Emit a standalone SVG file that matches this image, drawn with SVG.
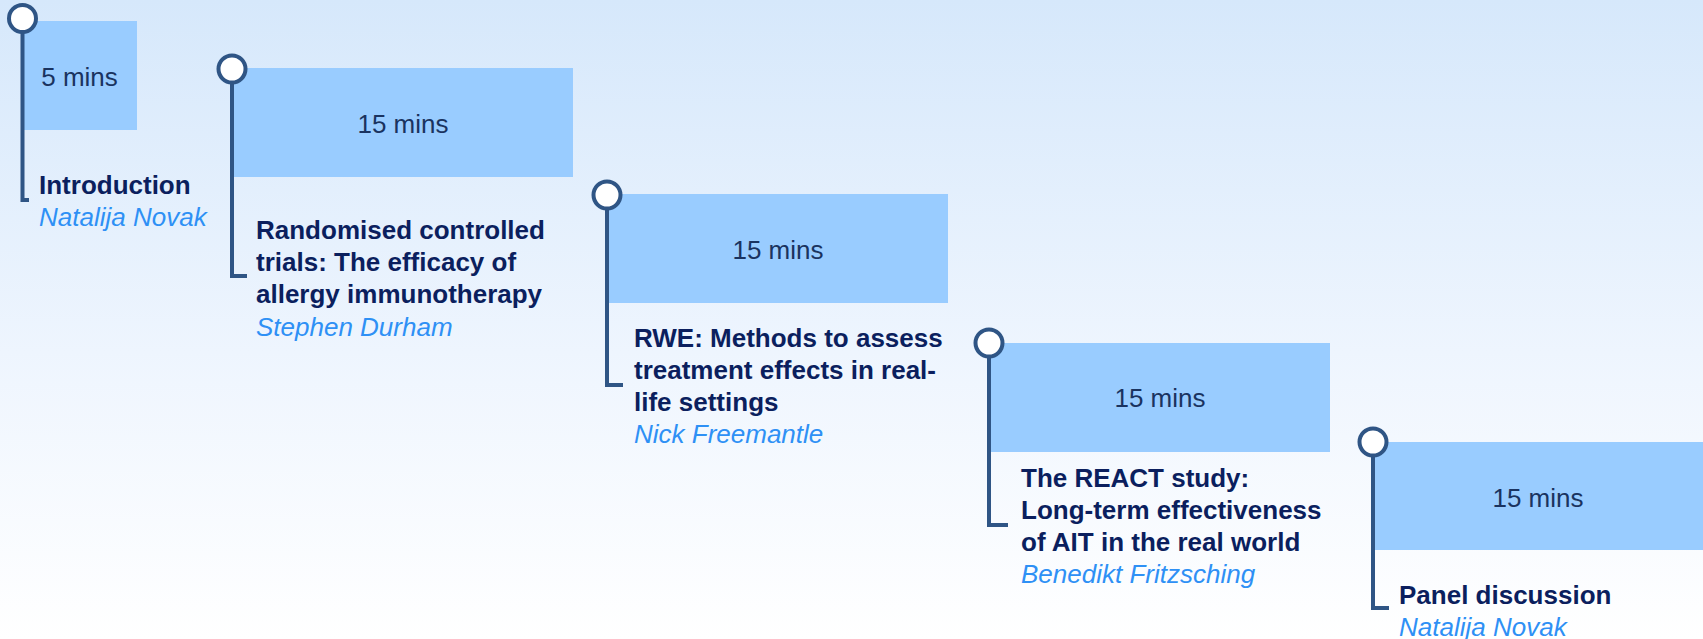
<svg xmlns="http://www.w3.org/2000/svg" width="1703" height="639" viewBox="0 0 1703 639">
  <defs>
    <linearGradient id="bg" x1="0" y1="0" x2="0" y2="1">
      <stop offset="0" stop-color="#D6E8FB"/>
      <stop offset="0.55" stop-color="#EEF5FE"/>
      <stop offset="1" stop-color="#FFFFFF"/>
    </linearGradient>
  </defs>
  <style>
    .box { fill: #99CCFF; }
    .pin { fill: #FFFFFF; stroke: #2F5585; stroke-width: 4; }
    .stem { fill: none; stroke: #2F5585; stroke-width: 4; stroke-linejoin: miter; stroke-linecap: butt; }
    .dur { font-family: "Liberation Sans", Arial, sans-serif; font-size: 26px; fill: #1A3360; text-anchor: middle; }
    .title { font-family: "Liberation Sans", Arial, sans-serif; font-size: 26px; font-weight: bold; fill: #0B1F5E; }
    .name { font-family: "Liberation Sans", Arial, sans-serif; font-size: 26px; font-style: italic; fill: #2E90F5; }
  </style>
  <rect x="0" y="0" width="1703" height="639" fill="url(#bg)"/>

  <g id="node1">
    <rect class="box" x="22.5" y="21" width="114.5" height="109"/>
    <text class="dur" x="79.5" y="86">5 mins</text>
    <text class="title" x="39" y="194">Introduction</text>
    <text class="name" x="39" y="226">Natalija Novak</text>
  </g>

  <g id="node2">
    <rect class="box" x="232" y="68" width="341" height="109"/>
    <text class="dur" x="403" y="133">15 mins</text>
    <text class="title" x="256" y="239">Randomised controlled</text>
    <text class="title" x="256" y="271">trials: The efficacy of</text>
    <text class="title" x="256" y="303">allergy immunotherapy</text>
    <text class="name" x="256" y="336">Stephen Durham</text>
  </g>

  <g id="node3">
    <rect class="box" x="607" y="194" width="341" height="109"/>
    <text class="dur" x="778" y="259">15 mins</text>
    <text class="title" x="634" y="347">RWE: Methods to assess</text>
    <text class="title" x="634" y="379">treatment effects in real-</text>
    <text class="title" x="634" y="411">life settings</text>
    <text class="name" x="634" y="443">Nick Freemantle</text>
  </g>

  <g id="node4">
    <rect class="box" x="989" y="343" width="341" height="109"/>
    <text class="dur" x="1160" y="407">15 mins</text>
    <text class="title" x="1021" y="487">The REACT study:</text>
    <text class="title" x="1021" y="519">Long-term effectiveness</text>
    <text class="title" x="1021" y="551">of AIT in the real world</text>
    <text class="name" x="1021" y="583">Benedikt Fritzsching</text>
  </g>

  <g id="node5">
    <rect class="box" x="1373" y="442" width="330" height="108"/>
    <text class="dur" x="1538" y="507">15 mins</text>
    <text class="title" x="1399" y="604">Panel discussion</text>
    <text class="name" x="1399" y="636">Natalija Novak</text>
  </g>

  <g id="connectors">
    <path class="stem" d="M22.5 30 V200 H29"/>
    <circle class="pin" cx="22.5" cy="18.5" r="13.5"/>
    <path class="stem" d="M232 80 V276 H247"/>
    <circle class="pin" cx="232" cy="69" r="13.5"/>
    <path class="stem" d="M607 206 V385 H623"/>
    <circle class="pin" cx="607" cy="195" r="13.5"/>
    <path class="stem" d="M989 354 V525 H1008"/>
    <circle class="pin" cx="989" cy="343" r="13.5"/>
    <path class="stem" d="M1373 453 V608 H1389"/>
    <circle class="pin" cx="1373" cy="442" r="13.5"/>
  </g>
</svg>
